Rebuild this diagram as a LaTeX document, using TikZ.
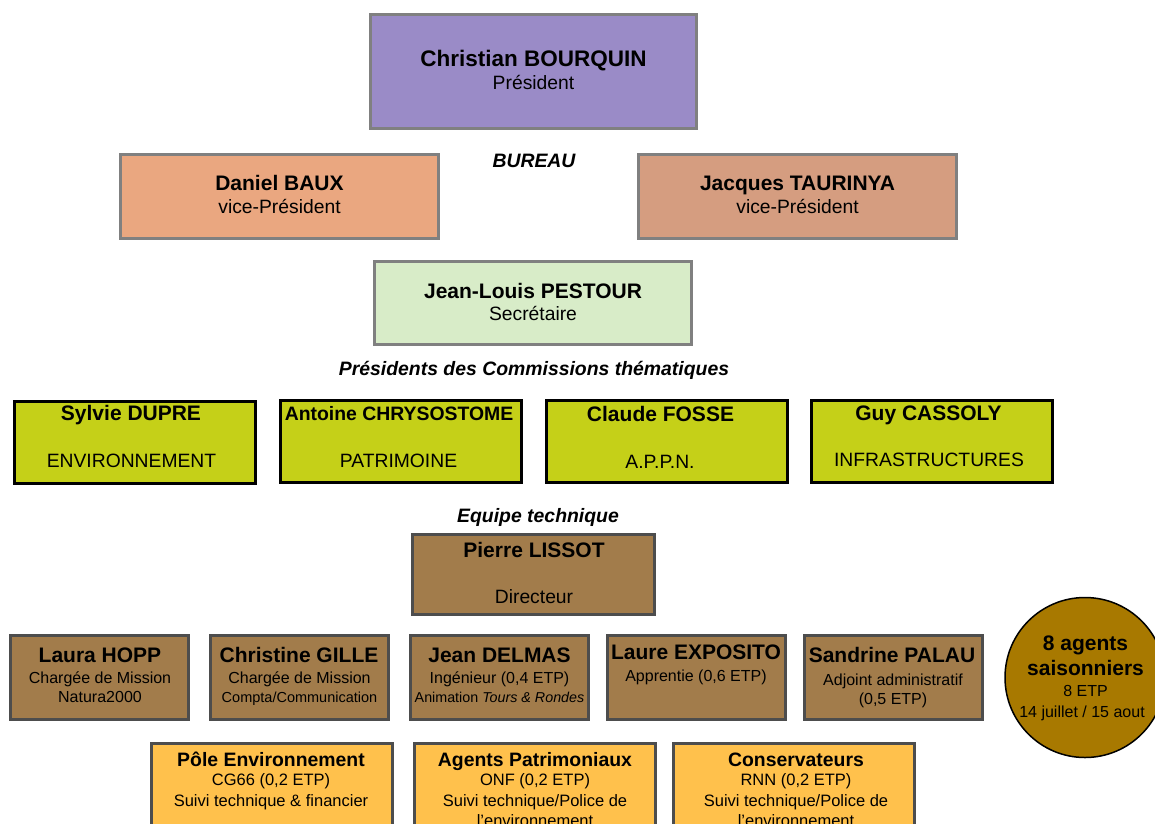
\documentclass[tikz,border=0pt]{standalone}
\usepackage{fontspec}
\setmainfont{Liberation Sans}
\definecolor{cPres}{HTML}{9A8BC7}
\definecolor{cVpA}{HTML}{EAA780}
\definecolor{cVpB}{HTML}{D59D80}
\definecolor{cSec}{HTML}{D8ECC8}
\definecolor{cCom}{HTML}{C5D018}
\definecolor{cStaff}{HTML}{A27C4B}
\definecolor{cCirc}{HTML}{A87900}
\definecolor{cPole}{HTML}{FFC14C}
\definecolor{topgray}{HTML}{808080}
\definecolor{darkgray}{HTML}{4D4D4D}
\tikzset{
  box/.style={draw, line width=3pt, rectangle, inner sep=0pt},
  topbox/.style={box, draw=topgray},
  combox/.style={box, draw=black, fill=cCom, minimum width=241, minimum height=82},
  staffbox/.style={box, draw=darkgray, fill=cStaff, minimum width=178, minimum height=84},
  polebox/.style={box, draw=darkgray, fill=cPole, minimum width=241, minimum height=115},
  ttl/.style={anchor=base, inner sep=0pt, font=\fontsize{21}{25}\selectfont\bfseries},
  bigttl/.style={anchor=base, inner sep=0pt, font=\fontsize{22.5}{27}\selectfont\bfseries},
  sub/.style={anchor=base, inner sep=0pt, font=\fontsize{19.3}{23}\selectfont},
  ssub/.style={anchor=base, inner sep=0pt, font=\fontsize{16}{19}\selectfont},
  pttl/.style={anchor=base, inner sep=0pt, font=\fontsize{19.4}{23}\selectfont\bfseries},
  psub/.style={anchor=base, inner sep=0pt, font=\fontsize{16.5}{20}\selectfont},
  lbl/.style={anchor=base, inner sep=0pt, font=\fontsize{19.4}{23}\selectfont\bfseries\itshape},
}
\begin{document}
\begin{tikzpicture}[x=1pt,y=-1pt]
\path[use as bounding box] (0,0) rectangle (1155,823);
\clip (0,0) rectangle (1155,823);
\fill[white] (0,0) rectangle (1155,823);

% Bureau
\node[topbox, fill=cPres, minimum width=326, minimum height=114] (pres) at (533.5,71.5) {};
\node[bigttl] (presT) at (533.5,66) {Christian BOURQUIN};
\node[sub] (presS) at (533.5,89) {Président};

\node[lbl] (bureau) at (534,167) {BUREAU};

\node[topbox, fill=cVpA, minimum width=318, minimum height=84] (vpa) at (279.5,196.5) {};
\node[ttl] (vpaT) at (279.5,190.5) {Daniel BAUX};
\node[sub] (vpaS) at (279.5,213) {vice-Président};

\node[topbox, fill=cVpB, minimum width=318, minimum height=84] (vpb) at (797.5,196.5) {};
\node[ttl] (vpbT) at (797.5,190.5) {Jacques TAURINYA};
\node[sub] (vpbS) at (797.5,213) {vice-Président};

\node[topbox, fill=cSec, minimum width=317, minimum height=83] (sec) at (533,303) {};
\node[ttl] (secT) at (533,298) {Jean-Louis PESTOUR};
\node[sub] (secS) at (533,320) {Secrétaire};

\node[lbl] (comlbl) at (534,375) {Présidents des Commissions thématiques};

% Commissions
\node[combox] (c1) at (135,442.5) {};
\node[ttl] (c1T) at (131,420.5) {Sylvie DUPRE};
\node[sub] (c1S) at (131.5,467) {ENVIRONNEMENT};

\node[combox] (c2) at (400.5,441.5) {};
\node[ttl, font=\fontsize{19.4}{23}\selectfont\bfseries] (c2T) at (399,420) {Antoine CHRYSOSTOME};
\node[sub] (c2S) at (398.5,467) {PATRIMOINE};

\node[combox] (c3) at (666.5,441) {};
\node[ttl] (c3T) at (660.5,421.5) {Claude FOSSE};
\node[sub] (c3S) at (660,468) {A.P.P.N.};

\node[combox] (c4) at (931.5,441.5) {};
\node[ttl] (c4T) at (928.5,420) {Guy CASSOLY};
\node[sub] (c4S) at (929,466) {INFRASTRUCTURES};

% Equipe technique
\node[lbl] (eqlbl) at (538,522) {Equipe technique};

\node[staffbox, minimum width=242, minimum height=80] (dir) at (533.5,574.5) {};
\node[ttl] (dirT) at (534,557.5) {Pierre LISSOT};
\node[sub] (dirS) at (534,603) {Directeur};

\node[staffbox] (s1) at (99.5,677.5) {};
\node[ttl] (s1T) at (100,662.5) {Laura HOPP};
\node[ssub] (s1a) at (100,683) {Chargée de Mission};
\node[ssub] (s1b) at (100,702) {Natura2000};

\node[staffbox] (s2) at (299.5,677.5) {};
\node[ttl] (s2T) at (299,662.5) {Christine GILLE};
\node[ssub] (s2a) at (299.5,683) {Chargée de Mission};
\node[ssub, font=\fontsize{14.5}{18}\selectfont] (s2b) at (299.5,702) {Compta/Communication};

\node[staffbox] (s3) at (499,677.5) {};
\node[ttl] (s3T) at (499.5,662.5) {Jean DELMAS};
\node[ssub] (s3a) at (499.5,683) {Ingénieur (0,4 ETP)};
\node[ssub, font=\fontsize{14.3}{18}\selectfont] (s3b) at (499.5,702) {Animation \textit{Tours \& Rondes}};

\node[staffbox] (s4) at (696.5,677) {};
\node[ttl] (s4T) at (696,659.5) {Laure EXPOSITO};
\node[ssub] (s4a) at (696,681) {Apprentie (0,6 ETP)};

\node[staffbox] (s5) at (893,677.5) {};
\node[ttl] (s5T) at (892,662.5) {Sandrine PALAU};
\node[ssub] (s5a) at (893,685) {Adjoint administratif};
\node[ssub] (s5b) at (893,704) {(0,5 ETP)};

\node[circle, draw=black, line width=1.5pt, fill=cCirc, minimum size=160, inner sep=0pt] (seas) at (1085,677.5) {};
\node[ttl] (seasT1) at (1085.5,650.5) {8 agents};
\node[ttl] (seasT2) at (1085.5,675.5) {saisonniers};
\node[ssub] (seasS1) at (1085.5,696) {8 ETP};
\node[ssub] (seasS2) at (1082,717) {14 juillet / 15 aout};

% Poles
\node[polebox] (p1) at (272,801) {};
\node[pttl] (p1T) at (271,766) {Pôle Environnement};
\node[psub] (p1a) at (271,785) {CG66 (0,2 ETP)};
\node[psub] (p1b) at (271,806) {Suivi technique \& financier};

\node[polebox] (p2) at (535,801) {};
\node[pttl] (p2T) at (535,766) {Agents Patrimoniaux};
\node[psub] (p2a) at (535,785) {ONF (0,2 ETP)};
\node[psub] (p2b) at (535,806) {Suivi technique/Police de};
\node[psub] (p2c) at (535,826) {l’environnement};

\node[polebox] (p3) at (794,801) {};
\node[pttl] (p3T) at (796,766) {Conservateurs};
\node[psub] (p3a) at (796,785) {RNN (0,2 ETP)};
\node[psub] (p3b) at (796,806) {Suivi technique/Police de};
\node[psub] (p3c) at (796,826) {l’environnement};
\end{tikzpicture}
\end{document}
